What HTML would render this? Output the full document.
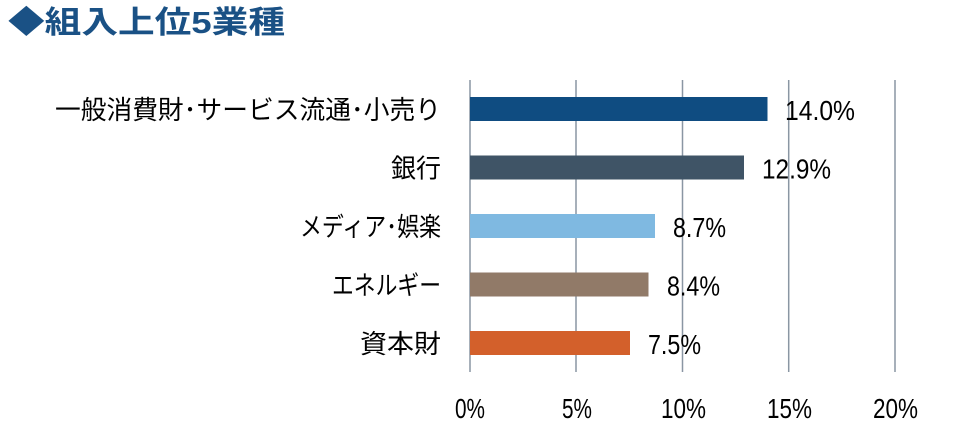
<!DOCTYPE html>
<html><head><meta charset="utf-8"><style>
body{margin:0;background:#fff;}
svg{display:block;font-family:"Liberation Sans","Noto Sans CJK JP",sans-serif;}
</style></head><body>
<svg width="953" height="436" viewBox="0 0 953 436">
<text x="8" y="33" font-size="31" font-weight="bold" fill="#1a5185" textLength="277" lengthAdjust="spacingAndGlyphs">◆組入上位5業種</text>
<g stroke="#8a96a3" stroke-width="1.5">
<line x1="470" y1="80" x2="470" y2="372"/>
<line x1="576" y1="80" x2="576" y2="372"/>
<line x1="682.5" y1="80" x2="682.5" y2="372"/>
<line x1="788.7" y1="80" x2="788.7" y2="372"/>
<line x1="895" y1="80" x2="895" y2="372"/>
</g>
<rect x="470" y="97" width="297.5" height="24" fill="#0f4c81"/>
<rect x="470" y="155.5" width="274" height="24" fill="#3f5466"/>
<rect x="470" y="214" width="185" height="24" fill="#7fb9e1"/>
<rect x="470" y="272.5" width="178.5" height="24" fill="#917a68"/>
<rect x="470" y="331" width="160" height="24" fill="#d3602b"/>
<g font-size="26" fill="#000">
<text x="55" y="119" textLength="386" lengthAdjust="spacingAndGlyphs">一般消費財･サービス流通･小売り</text>
<text x="391" y="177.5" textLength="50" lengthAdjust="spacingAndGlyphs">銀行</text>
<text x="300" y="236" textLength="141" lengthAdjust="spacingAndGlyphs">メディア･娯楽</text>
<text x="332" y="294.5" textLength="109" lengthAdjust="spacingAndGlyphs">エネルギー</text>
<text x="360" y="353" textLength="81" lengthAdjust="spacingAndGlyphs">資本財</text>
</g>
<g font-size="28" fill="#000">
<text x="785" y="120" textLength="70" lengthAdjust="spacingAndGlyphs">14.0%</text>
<text x="762" y="178.5" textLength="69" lengthAdjust="spacingAndGlyphs">12.9%</text>
<text x="673" y="237" textLength="53" lengthAdjust="spacingAndGlyphs">8.7%</text>
<text x="667" y="295.5" textLength="53" lengthAdjust="spacingAndGlyphs">8.4%</text>
<text x="648" y="354" textLength="53" lengthAdjust="spacingAndGlyphs">7.5%</text>
</g>
<g font-size="28" fill="#000">
<text x="455" y="418" textLength="30" lengthAdjust="spacingAndGlyphs">0%</text>
<text x="562" y="418" textLength="30" lengthAdjust="spacingAndGlyphs">5%</text>
<text x="661" y="418" textLength="45" lengthAdjust="spacingAndGlyphs">10%</text>
<text x="767" y="418" textLength="45" lengthAdjust="spacingAndGlyphs">15%</text>
<text x="873" y="418" textLength="45" lengthAdjust="spacingAndGlyphs">20%</text>
</g>
</svg>
</body></html>
